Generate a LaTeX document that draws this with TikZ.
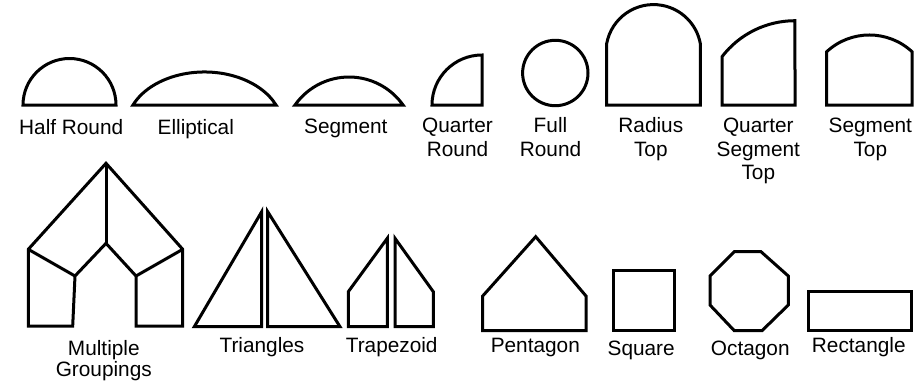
\documentclass[tikz,border=0pt]{standalone}
\usepackage{fontspec}
\setmainfont{Liberation Sans}
\tikzset{
  outl/.style={draw=black, line width=3pt, line join=miter},
  lbl/.style={anchor=base, inner sep=0pt, align=center, font=\fontsize{20.8}{23.5}\selectfont}
}
\begin{document}
\begin{tikzpicture}[x=1pt,y=-1pt]
\useasboundingbox (0,0) rectangle (914,381);
% ---- top row ----
% Half Round
\draw[outl] (23,105) arc[start angle=180, end angle=360, radius=46.5] -- cycle;
% Elliptical
\draw[outl] (133,105) arc[start angle=203.55, end angle=336.45, x radius=78, y radius=55] -- cycle;
% Segment
\draw[outl] (295,105) arc[start angle=215.2, end angle=324.8, radius=66.1] -- cycle;
% Quarter Round
\draw[outl] (432,105) arc[start angle=180, end angle=270, radius=50] -- (482,105) -- cycle;
% Full Round
\draw[outl] (555.3,73) circle[radius=32.7];
% Radius Top
\draw[outl] (606.7,105) -- (606.7,43.5) arc[start angle=190.5, end angle=349.5, radius=47.6] -- (700.3,105) -- cycle;
% Quarter Segment Top
\draw[outl] (722,105) -- (722,56.7) arc[start angle=217.5, end angle=270, radius=92] -- (795,105) -- cycle;
% Segment Top
\draw[outl] (826.7,105) -- (826.7,51.7) arc[start angle=227.2, end angle=312.8, radius=62.8] -- (912,105) -- cycle;

\node[lbl] (lhalf) at (71.2,134) {Half Round};
\node[lbl] (lell) at (195.8,134) {Elliptical};
\node[lbl] (lseg) at (345.8,133.3) {Segment};
\node[lbl] (lqr) at (457.5,156.2) {Quarter\\Round};
\node[lbl] (lfr) at (550.5,156.2) {Full\\Round};
\node[lbl] (lrt) at (650.8,156.2) {Radius\\Top};
\node[lbl] (lqst) at (758.3,179.7) {Quarter\\Segment\\Top};
\node[lbl] (lst) at (870.3,156.2) {Segment\\Top};

% ---- bottom row ----
% Multiple Groupings
\draw[outl] (28.3,326) -- (28.3,249.3) -- (106,163.3) -- (182.7,249.3) -- (182.7,326)
  -- (136,326) -- (136,276) -- (106,243.3) -- (75,276) -- (72.7,326) -- cycle;
\draw[outl] (106,163.3) -- (106,243.3);
\draw[outl] (28.3,249.3) -- (75,276);
\draw[outl] (182.7,249.3) -- (136,276);
% Triangles
\draw[outl] (194.3,326.7) -- (261.7,211.7) -- (261.7,326.7) -- cycle;
\draw[outl] (267.7,211.7) -- (267.7,326.7) -- (340,326.7) -- cycle;
% Trapezoid
\draw[outl] (348.3,326.7) -- (348.3,291.7) -- (387.3,238.3) -- (387.3,326.7) -- cycle;
\draw[outl] (395,326.7) -- (395,238.3) -- (433.3,291.7) -- (433.3,326.7) -- cycle;
% Pentagon
\draw[outl] (482.7,330.7) -- (482.7,296) -- (535.7,236.7) -- (586,296) -- (586,330.7) -- cycle;
% Square
\draw[outl] (613.3,270.7) rectangle (674,330.7);
% Octagon
\draw[outl] (734.3,251.7) -- (761,251.7) -- (788.3,276) -- (788.3,305) -- (762,330.7)
  -- (734.3,330.7) -- (710,305) -- (710,276) -- cycle;
% Rectangle
\draw[outl] (808.3,291) rectangle (911,330);

\node[lbl] (lmg) at (103.8,376) {Multiple\\[-2.5pt]Groupings};
\node[lbl] (ltri) at (262,352.7) {Triangles};
\node[lbl] (ltrap) at (391.7,352.7) {Trapezoid};
\node[lbl] (lpent) at (535.3,352.7) {Pentagon};
\node[lbl] (lsq) at (641.2,355) {Square};
\node[lbl] (loct) at (750.3,355) {Octagon};
\node[lbl] (lrect) at (858.8,352.7) {Rectangle};
\end{tikzpicture}
\end{document}
